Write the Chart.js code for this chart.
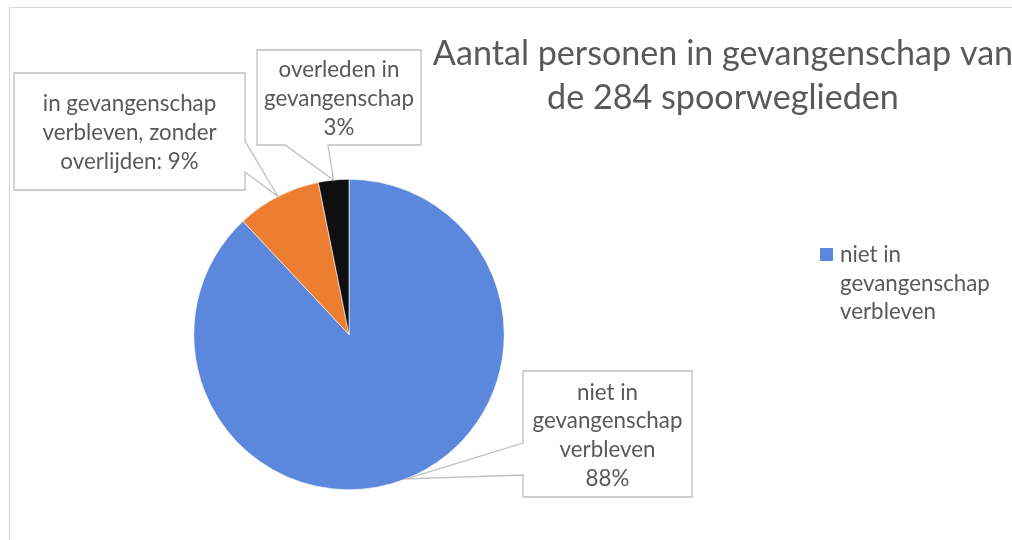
<!DOCTYPE html>
<html>
<head>
<meta charset="utf-8">
<script src="https://cdn.jsdelivr.net/npm/chart.js@4.4.0/dist/chart.umd.min.js"></script>
<style>
  html, body { margin: 0; padding: 0; background: #ffffff; }
  #wrap { width: 1012px; height: 540px; position: relative; }
</style>
</head>
<body>
<div id="wrap"><canvas id="c" width="1012" height="540"></canvas></div>
<script>
// ---- data ----
const categories = [
  'niet in gevangenschap verbleven',
  'in gevangenschap verbleven, zonder overlijden',
  'overleden in gevangenschap'
];
const values = [250, 25, 9];
const colors = ['#5B87DC', '#ED7D31', '#0F0F0F'];
const titleLines = ['Aantal personen in gevangenschap van', 'de 284 spoorweglieden'];
const labelSeparators = ['\n', ': ', '\n'];

const FONT = 'Lato, "Open Sans", sans-serif';
const TEXT_COLOR = '#595959';

function fitSize(ctx, text, target) {
  ctx.font = '100px ' + FONT;
  return 100 * target / ctx.measureText(text).width;
}

function wrap(ctx, text, maxW) {
  const out = [];
  text.split('\n').forEach(part => {
    const words = part.split(' ');
    let line = '';
    words.forEach(w => {
      const t = line ? line + ' ' + w : w;
      if (ctx.measureText(t).width > maxW && line) { out.push(line); line = w; }
      else line = t;
    });
    if (line) out.push(line);
  });
  return out;
}

// callout layout (positions only)
const callouts = [
  { box: [523, 371, 692, 497], side: 'left',   base: [443, 475], wrapW: 160 },
  { box: [14, 73, 245, 190],   side: 'right',  base: [141, 172], wrapW: 205 },
  { box: [257, 50, 421, 145],  side: 'bottom', base: [285, 328], wrapW: 160 }
];

const decor = {
  id: 'decor',
  afterDraw(chart) {
    const ctx = chart.ctx;
    const total = values.reduce((a, b) => a + b, 0);
    ctx.save();

    // outer chart border
    ctx.strokeStyle = '#d9d9d9';
    ctx.lineWidth = 1;
    ctx.strokeRect(9.5, 7.5, 1200, 700);

    // title
    const ts = fitSize(ctx, titleLines[1], 352);
    ctx.font = ts + 'px ' + FONT;
    ctx.fillStyle = TEXT_COLOR;
    ctx.textAlign = 'center';
    ctx.textBaseline = 'alphabetic';
    ctx.fillText(titleLines[0], 723, 65);
    ctx.fillText(titleLines[1], 723, 109);

    // label font
    const ls = fitSize(ctx, 'gevangenschap', 150);
    ctx.font = ls + 'px ' + FONT;
    ctx.textBaseline = 'middle';
    const lh = 28.8;

    // callouts
    const meta = chart.getDatasetMeta(0);
    callouts.forEach((c, i) => {
      const arc = meta.data[i];
      const mid = (arc.startAngle + arc.endAngle) / 2;
      const tx = arc.x + Math.cos(mid) * arc.outerRadius;
      const ty = arc.y + Math.sin(mid) * arc.outerRadius;
      const [x1, y1, x2, y2] = c.box;
      ctx.beginPath();
      if (c.side === 'left') {
        ctx.moveTo(x1, y1); ctx.lineTo(x2, y1); ctx.lineTo(x2, y2); ctx.lineTo(x1, y2);
        ctx.lineTo(x1, c.base[1]); ctx.lineTo(tx, ty); ctx.lineTo(x1, c.base[0]);
      } else if (c.side === 'right') {
        ctx.moveTo(x1, y1); ctx.lineTo(x2, y1); ctx.lineTo(x2, c.base[0]); ctx.lineTo(tx, ty);
        ctx.lineTo(x2, c.base[1]); ctx.lineTo(x2, y2); ctx.lineTo(x1, y2);
      } else {
        ctx.moveTo(x1, y1); ctx.lineTo(x2, y1); ctx.lineTo(x2, y2); ctx.lineTo(c.base[1], y2);
        ctx.lineTo(tx, ty); ctx.lineTo(c.base[0], y2); ctx.lineTo(x1, y2);
      }
      ctx.closePath();
      ctx.fillStyle = '#ffffff';
      ctx.fill();
      ctx.strokeStyle = '#bfbfbf';
      ctx.lineWidth = 1.3;
      ctx.stroke();

      const pct = Math.round(values[i] / total * 100) + '%';
      const lines = wrap(ctx, categories[i] + labelSeparators[i] + pct, c.wrapW);
      ctx.fillStyle = TEXT_COLOR;
      const cx = (x1 + x2) / 2;
      const cy = (y1 + y2) / 2 + 1.5;
      lines.forEach((l, k) => {
        ctx.fillText(l, cx, cy + (k - (lines.length - 1) / 2) * lh);
      });
    });

    // legend (only first entry visible)
    ctx.fillStyle = colors[0];
    ctx.fillRect(820, 248, 13, 13);
    ctx.fillStyle = TEXT_COLOR;
    ctx.textAlign = 'left';
    ctx.textBaseline = 'alphabetic';
    const legLines = wrap(ctx, categories[0], 160);
    legLines.forEach((l, k) => ctx.fillText(l, 840, 262 + k * 28.5));

    ctx.restore();
  }
};

new Chart(document.getElementById('c'), {
  type: 'pie',
  data: {
    labels: categories,
    datasets: [{
      data: values,
      backgroundColor: colors,
      borderColor: '#ffffff',
      borderWidth: 0.6
    }]
  },
  options: {
    responsive: false,
    animation: false,
    layout: { padding: { left: 193.5, right: 507.5, top: 179, bottom: 50 } },
    plugins: {
      legend: { display: false },
      title: { display: false },
      tooltip: { enabled: false }
    }
  },
  plugins: [decor]
});
</script>
</body>
</html>
